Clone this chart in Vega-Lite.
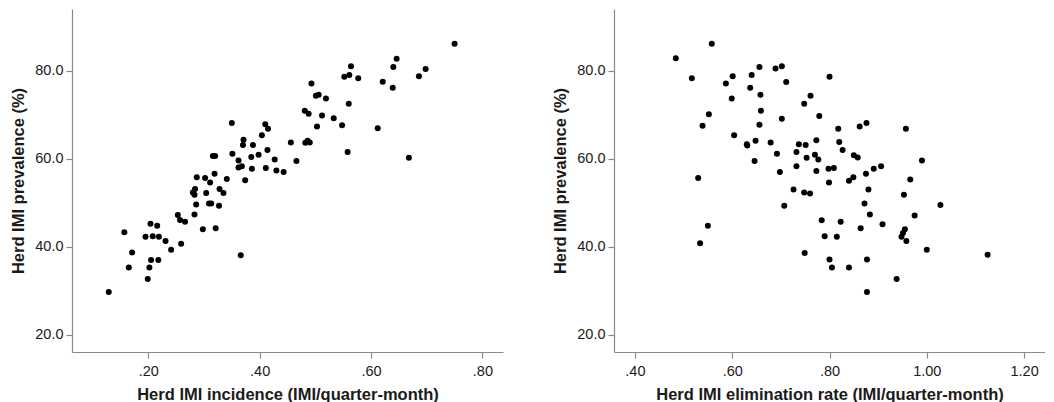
{
  "$schema": "https://vega.github.io/schema/vega-lite/v6.json",
  "padding": {"left": 10, "top": 9, "right": 0, "bottom": 0},
  "autosize": {"type": "pad"},
  "background": "white",
  "datasets": {
    "inc": [
      {"incidence":0.750,"prevalence":86.1},{"incidence":0.646,"prevalence":82.7},{"incidence":0.640,"prevalence":80.8},{"incidence":0.698,"prevalence":80.4},{"incidence":0.686,"prevalence":78.7},{"incidence":0.621,"prevalence":77.5},{"incidence":0.639,"prevalence":76.1},{"incidence":0.612,"prevalence":66.9},{"incidence":0.668,"prevalence":60.2},{"incidence":0.564,"prevalence":81.0},{"incidence":0.552,"prevalence":78.6},{"incidence":0.561,"prevalence":79.0},{"incidence":0.577,"prevalence":78.3},{"incidence":0.493,"prevalence":77.1},{"incidence":0.501,"prevalence":74.3},{"incidence":0.506,"prevalence":74.5},{"incidence":0.519,"prevalence":73.7},{"incidence":0.560,"prevalence":72.5},{"incidence":0.481,"prevalence":70.9},{"incidence":0.488,"prevalence":70.2},{"incidence":0.512,"prevalence":69.8},{"incidence":0.533,"prevalence":69.2},{"incidence":0.548,"prevalence":67.6},{"incidence":0.503,"prevalence":67.3},{"incidence":0.558,"prevalence":61.5},{"incidence":0.456,"prevalence":63.7},{"incidence":0.482,"prevalence":63.6},{"incidence":0.486,"prevalence":64.1},{"incidence":0.490,"prevalence":63.7},{"incidence":0.466,"prevalence":59.5},{"incidence":0.410,"prevalence":67.8},{"incidence":0.415,"prevalence":66.8},{"incidence":0.404,"prevalence":65.3},{"incidence":0.414,"prevalence":62.0},{"incidence":0.427,"prevalence":59.8},{"incidence":0.411,"prevalence":57.9},{"incidence":0.430,"prevalence":57.3},{"incidence":0.443,"prevalence":57.0},
      {"incidence":0.371,"prevalence":64.3},{"incidence":0.370,"prevalence":63.1},{"incidence":0.388,"prevalence":63.1},{"incidence":0.316,"prevalence":60.6},{"incidence":0.320,"prevalence":60.6},{"incidence":0.351,"prevalence":61.1},{"incidence":0.362,"prevalence":59.6},{"incidence":0.362,"prevalence":58.0},{"incidence":0.368,"prevalence":58.3},{"incidence":0.385,"prevalence":60.4},{"incidence":0.398,"prevalence":60.9},{"incidence":0.386,"prevalence":57.7},{"incidence":0.374,"prevalence":55.1},{"incidence":0.341,"prevalence":55.4},{"incidence":0.319,"prevalence":56.6},{"incidence":0.287,"prevalence":55.8},{"incidence":0.302,"prevalence":55.6},{"incidence":0.311,"prevalence":54.6},{"incidence":0.284,"prevalence":53.1},{"incidence":0.280,"prevalence":52.3},{"incidence":0.283,"prevalence":51.8},{"incidence":0.304,"prevalence":52.2},{"incidence":0.328,"prevalence":53.1},{"incidence":0.335,"prevalence":52.2},{"incidence":0.286,"prevalence":49.6},{"incidence":0.309,"prevalence":49.8},{"incidence":0.313,"prevalence":49.8},{"incidence":0.327,"prevalence":49.3},{"incidence":0.283,"prevalence":47.3},{"incidence":0.253,"prevalence":47.2},{"incidence":0.257,"prevalence":46.1},{"incidence":0.266,"prevalence":45.7},{"incidence":0.298,"prevalence":44.0},{"incidence":0.321,"prevalence":44.2},{"incidence":0.350,"prevalence":68.1},{"incidence":0.366,"prevalence":38.1},
      {"incidence":0.259,"prevalence":40.7},{"incidence":0.231,"prevalence":41.3},{"incidence":0.241,"prevalence":39.3},{"incidence":0.219,"prevalence":42.3},{"incidence":0.208,"prevalence":42.4},{"incidence":0.195,"prevalence":42.3},{"incidence":0.204,"prevalence":45.2},{"incidence":0.216,"prevalence":44.8},{"incidence":0.205,"prevalence":37.0},{"incidence":0.218,"prevalence":37.0},{"incidence":0.202,"prevalence":35.3},{"incidence":0.199,"prevalence":32.7},{"incidence":0.157,"prevalence":43.3},{"incidence":0.171,"prevalence":38.7},{"incidence":0.165,"prevalence":35.3},{"incidence":0.129,"prevalence":29.7}
    ],
    "elim": [
      {"elimination":0.484,"prevalence":82.8},{"elimination":0.558,"prevalence":86.1},{"elimination":0.517,"prevalence":78.3},{"elimination":0.552,"prevalence":70.1},{"elimination":0.539,"prevalence":67.5},{"elimination":0.604,"prevalence":65.3},{"elimination":0.587,"prevalence":77.1},{"elimination":0.601,"prevalence":78.7},{"elimination":0.599,"prevalence":73.7},{"elimination":0.637,"prevalence":76.1},{"elimination":0.640,"prevalence":79.0},{"elimination":0.656,"prevalence":80.8},{"elimination":0.658,"prevalence":74.5},{"elimination":0.659,"prevalence":70.9},{"elimination":0.656,"prevalence":67.7},{"elimination":0.689,"prevalence":80.5},{"elimination":0.702,"prevalence":81.0},{"elimination":0.711,"prevalence":77.4},{"elimination":0.702,"prevalence":69.1},{"elimination":0.630,"prevalence":63.3},{"elimination":0.631,"prevalence":63.0},{"elimination":0.648,"prevalence":64.1},{"elimination":0.679,"prevalence":63.7},{"elimination":0.646,"prevalence":59.5},{"elimination":0.692,"prevalence":61.1},{"elimination":0.698,"prevalence":57.0},{"elimination":0.530,"prevalence":55.6},{"elimination":0.550,"prevalence":44.8},{"elimination":0.534,"prevalence":40.8},
      {"elimination":0.748,"prevalence":72.5},{"elimination":0.761,"prevalence":74.3},{"elimination":0.737,"prevalence":63.3},{"elimination":0.751,"prevalence":63.1},{"elimination":0.732,"prevalence":61.5},{"elimination":0.753,"prevalence":60.2},{"elimination":0.732,"prevalence":58.3},{"elimination":0.773,"prevalence":64.2},{"elimination":0.770,"prevalence":60.9},{"elimination":0.777,"prevalence":59.8},{"elimination":0.773,"prevalence":57.2},{"elimination":0.726,"prevalence":53.0},{"elimination":0.748,"prevalence":52.3},{"elimination":0.760,"prevalence":52.1},{"elimination":0.707,"prevalence":49.3},{"elimination":0.749,"prevalence":38.6},{"elimination":0.800,"prevalence":78.6},{"elimination":0.779,"prevalence":69.7},
      {"elimination":0.818,"prevalence":66.8},{"elimination":0.862,"prevalence":67.3},{"elimination":0.876,"prevalence":68.1},{"elimination":0.820,"prevalence":63.8},{"elimination":0.827,"prevalence":62.0},{"elimination":0.850,"prevalence":60.8},{"elimination":0.858,"prevalence":60.3},{"elimination":0.798,"prevalence":57.7},{"elimination":0.809,"prevalence":57.9},{"elimination":0.875,"prevalence":56.6},{"elimination":0.891,"prevalence":57.7},{"elimination":0.906,"prevalence":58.3},{"elimination":0.799,"prevalence":54.6},{"elimination":0.840,"prevalence":55.0},{"elimination":0.849,"prevalence":55.8},{"elimination":0.880,"prevalence":53.0},{"elimination":0.872,"prevalence":49.8},{"elimination":0.883,"prevalence":47.3},{"elimination":0.784,"prevalence":46.0},{"elimination":0.823,"prevalence":45.7},{"elimination":0.909,"prevalence":45.1},{"elimination":0.864,"prevalence":44.2},{"elimination":0.790,"prevalence":42.4},{"elimination":0.815,"prevalence":42.3},{"elimination":0.800,"prevalence":37.1},{"elimination":0.805,"prevalence":35.3},{"elimination":0.840,"prevalence":35.3},{"elimination":0.877,"prevalence":37.1},{"elimination":0.877,"prevalence":29.7},{"elimination":0.938,"prevalence":32.7},
      {"elimination":0.957,"prevalence":66.8},{"elimination":0.990,"prevalence":59.6},{"elimination":0.966,"prevalence":55.3},{"elimination":0.953,"prevalence":51.8},{"elimination":1.028,"prevalence":49.5},{"elimination":0.975,"prevalence":47.1},{"elimination":0.955,"prevalence":44.0},{"elimination":0.951,"prevalence":43.1},{"elimination":0.948,"prevalence":42.3},{"elimination":0.958,"prevalence":41.3},{"elimination":1.000,"prevalence":39.3},{"elimination":1.125,"prevalence":38.2}
    ]
  },
  "bounds": "flush",
  "spacing": 111,
  "hconcat": [
    {
      "width": 431,
      "height": 343,
      "data": {"name": "inc"},
      "mark": {"type": "point", "filled": true, "color": "#000000", "opacity": 1, "size": 36},
      "encoding": {
        "x": {"field": "incidence", "type": "quantitative",
              "scale": {"domain": [0.063, 0.837], "nice": false, "zero": false},
              "axis": {"title": "Herd IMI incidence (IMI/quarter-month)", "values": [0.2, 0.4, 0.6, 0.8],
                       "labelExpr": "substring(format(datum.value, '.2f'), 1)"}},
        "y": {"field": "prevalence", "type": "quantitative",
              "scale": {"domain": [16.1, 94.0], "nice": false, "zero": false},
              "axis": {"title": "Herd IMI prevalence (%)", "values": [20, 40, 60, 80], "format": ".1f"}}
      }
    },
    {
      "width": 431,
      "height": 343,
      "data": {"name": "elim"},
      "mark": {"type": "point", "filled": true, "color": "#000000", "opacity": 1, "size": 36},
      "encoding": {
        "x": {"field": "elimination", "type": "quantitative",
              "scale": {"domain": [0.357, 1.243], "nice": false, "zero": false},
              "axis": {"title": "Herd IMI elimination rate (IMI/quarter-month)", "values": [0.4, 0.6, 0.8, 1.0, 1.2],
                       "labelExpr": "datum.value < 1 ? substring(format(datum.value, '.2f'), 1) : format(datum.value, '.2f')"}},
        "y": {"field": "prevalence", "type": "quantitative",
              "scale": {"domain": [16.1, 94.0], "nice": false, "zero": false},
              "axis": {"title": "Herd IMI prevalence (%)", "values": [20, 40, 60, 80], "format": ".1f"}}
      }
    }
  ],
  "config": {
    "view": {"stroke": null},
    "axis": {
      "grid": false,
      "domainColor": "#8a8a8a",
      "domainWidth": 1.2,
      "tickColor": "#8a8a8a",
      "tickWidth": 1.2,
      "tickSize": 6,
      "labelFont": "Liberation Sans",
      "labelFontSize": 14.5,
      "labelColor": "#1a1a1a",
      "labelPadding": 3,
      "titleFont": "Liberation Sans",
      "titleFontSize": 16.5,
      "titleFontWeight": "bold",
      "titleColor": "#1a1a1a",
      "labelFlush": false,
      "labelOverlap": false
    },
    "axisX": {"labelPadding": 6, "titlePadding": 9},
    "axisY": {"titlePadding": 8}
  }
}
